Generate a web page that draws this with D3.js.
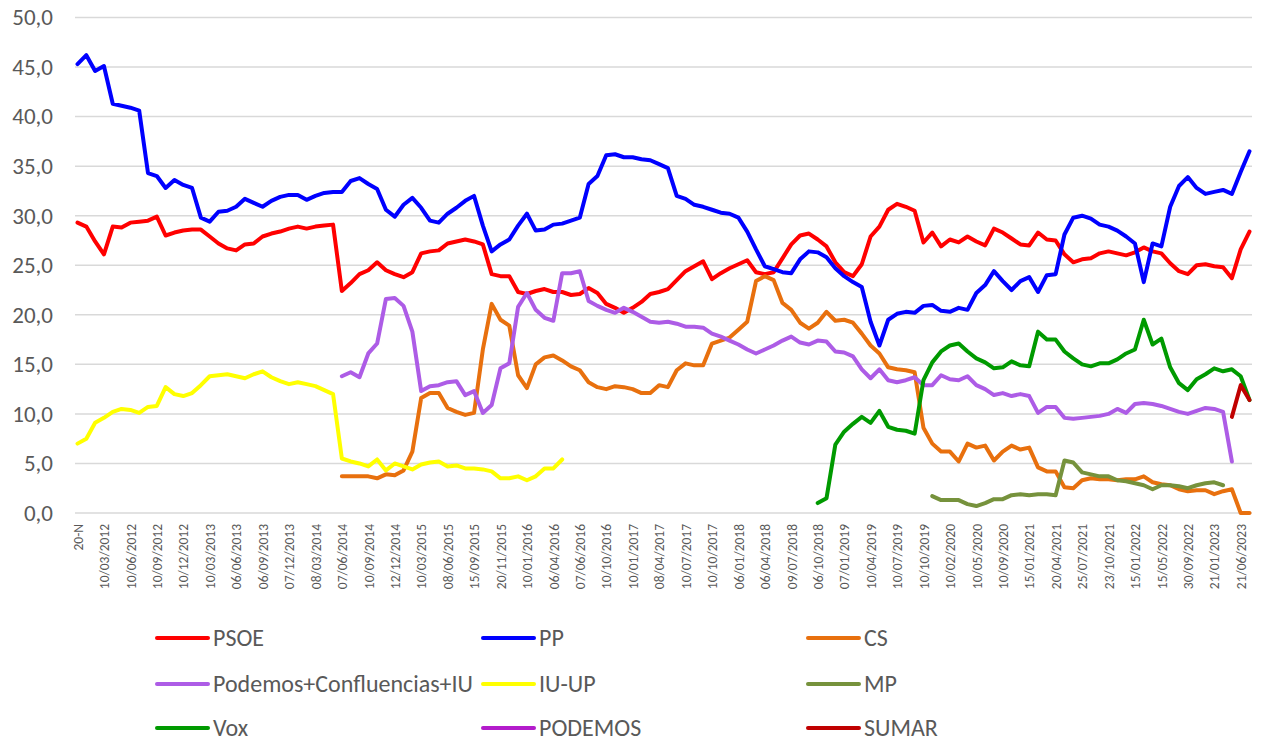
<!DOCTYPE html>
<html>
<head>
<meta charset="utf-8">
<script src="https://cdn.jsdelivr.net/npm/d3@7"></script>
<style>
  html, body { margin: 0; padding: 0; background: #ffffff; }
  svg { display: block; }
  text { font-family: Carlito, Calibri, "Open Sans", "Noto Sans", sans-serif; fill: #595959; }
</style>
</head>
<body>
<svg id="chart" width="1261" height="744"></svg>
<script>
// ---------- DATA ----------
const pointCount = 134;
const tickLabels = ["20-N","10/03/2012","10/06/2012","10/09/2012","10/12/2012","10/03/2013","06/06/2013","06/09/2013","07/12/2013","08/03/2014","07/06/2014","10/09/2014","12/12/2014","10/03/2015","08/06/2015","15/09/2015","20/11/2015","10/01/2016","06/04/2016","07/06/2016","10/10/2016","10/01/2017","08/04/2017","10/07/2017","10/10/2017","06/01/2018","06/04/2018","09/07/2018","06/10/2018","07/01/2019","10/04/2019","10/07/2019","10/10/2019","10/02/2020","10/05/2020","10/09/2020","15/01/2021","20/04/2021","25/07/2021","23/10/2021","15/01/2022","15/05/2022","30/09/2022","21/01/2023","21/06/2023"];
const yTicks = [0,5,10,15,20,25,30,35,40,45,50];

const psoeStart = 0;
const psoeValues = [29.3,28.9,27.4,26.1,28.9,28.8,29.3,29.4,29.5,29.9,28.0,28.3,28.5,28.6,28.6,27.9,27.2,26.7,26.5,27.1,27.2,27.9,28.2,28.4,28.7,28.9,28.7,28.9,29.0,29.1,22.4,23.2,24.1,24.5,25.3,24.5,24.1,23.8,24.3,26.2,26.4,26.5,27.2,27.4,27.6,27.4,27.1,24.1,23.9,23.9,22.3,22.1,22.4,22.6,22.3,22.3,22.0,22.1,22.7,22.2,21.1,20.7,20.2,20.7,21.3,22.1,22.3,22.6,23.5,24.4,24.9,25.4,23.6,24.2,24.7,25.1,25.5,24.3,24.1,24.3,25.7,27.1,28.0,28.2,27.6,26.9,25.3,24.3,23.9,25.1,27.9,28.9,30.6,31.2,30.9,30.5,27.3,28.3,26.9,27.6,27.3,27.9,27.4,27.0,28.7,28.3,27.7,27.1,27.0,28.3,27.6,27.5,26.1,25.3,25.6,25.7,26.2,26.4,26.2,26.0,26.3,26.8,26.4,26.2,25.2,24.4,24.1,25.0,25.1,24.9,24.8,23.7,26.6,28.4];

const ppStart = 0;
const ppValues = [45.3,46.2,44.6,45.1,41.3,41.1,40.9,40.6,34.3,34.0,32.8,33.6,33.1,32.8,29.8,29.4,30.4,30.5,30.9,31.7,31.3,30.9,31.5,31.9,32.1,32.1,31.6,32.0,32.3,32.4,32.4,33.5,33.8,33.2,32.7,30.6,29.9,31.1,31.8,30.8,29.5,29.3,30.2,30.8,31.5,32.0,29.0,26.4,27.1,27.6,29.0,30.2,28.5,28.6,29.1,29.2,29.5,29.8,33.2,34.0,36.1,36.2,35.9,35.9,35.7,35.6,35.2,34.8,32.0,31.7,31.1,30.9,30.6,30.3,30.2,29.8,28.4,26.6,24.9,24.6,24.3,24.2,25.6,26.4,26.3,25.8,24.7,23.9,23.3,22.8,19.3,16.9,19.5,20.1,20.3,20.2,20.9,21.0,20.4,20.3,20.7,20.5,22.2,23.0,24.4,23.4,22.5,23.4,23.8,22.3,24.0,24.1,28.1,29.8,30.0,29.7,29.1,28.9,28.5,27.9,27.2,23.3,27.2,26.9,30.9,33.0,33.9,32.8,32.2,32.4,32.6,32.2,34.4,36.5];

const csStart = 30;
const csValues = [3.7,3.7,3.7,3.7,3.5,3.9,3.8,4.3,6.2,11.6,12.1,12.1,10.6,10.2,9.9,10.1,16.5,21.1,19.5,18.9,13.9,12.6,15.0,15.7,15.9,15.4,14.8,14.4,13.2,12.7,12.5,12.8,12.7,12.5,12.1,12.1,12.9,12.7,14.4,15.1,14.9,14.9,17.1,17.4,17.7,18.5,19.3,23.4,23.9,23.5,21.2,20.5,19.2,18.6,19.2,20.3,19.4,19.5,19.2,18.1,16.9,16.1,14.7,14.5,14.4,14.2,8.6,7.0,6.2,6.2,5.2,7.0,6.6,6.8,5.3,6.2,6.8,6.4,6.6,4.6,4.2,4.2,2.6,2.5,3.3,3.5,3.4,3.4,3.3,3.4,3.4,3.7,3.1,2.9,2.8,2.4,2.2,2.3,2.3,1.9,2.2,2.4,0.0,0.0];

const podemosIuStart = 30;
const podemosIuValues = [13.8,14.2,13.7,16.1,17.1,21.6,21.7,20.9,18.3,12.3,12.8,12.9,13.2,13.3,11.9,12.3,10.1,10.9,14.6,15.1,20.8,22.2,20.5,19.7,19.4,24.2,24.2,24.4,21.4,20.9,20.5,20.2,20.7,20.3,19.8,19.3,19.2,19.3,19.1,18.8,18.8,18.7,18.1,17.8,17.4,17.0,16.5,16.1,16.5,16.9,17.4,17.8,17.2,17.0,17.4,17.3,16.3,16.2,15.8,14.5,13.6,14.5,13.4,13.2,13.4,13.7,12.9,12.9,13.9,13.5,13.4,13.8,12.9,12.5,11.9,12.1,11.8,12.0,11.8,10.1,10.7,10.7,9.6,9.5,9.6,9.7,9.8,10.0,10.5,10.1,11.0,11.1,11.0,10.8,10.5,10.2,10.0,10.3,10.6,10.5,10.2,5.2];

const iuUpStart = 0;
const iuUpValues = [7.0,7.5,9.1,9.6,10.2,10.5,10.4,10.1,10.7,10.8,12.7,12.0,11.8,12.1,12.9,13.8,13.9,14.0,13.8,13.6,14.0,14.3,13.7,13.3,13.0,13.2,13.0,12.8,12.4,12.0,5.5,5.2,5.0,4.7,5.4,4.3,5.0,4.7,4.4,4.9,5.1,5.2,4.7,4.8,4.5,4.5,4.4,4.2,3.5,3.5,3.7,3.3,3.7,4.5,4.5,5.4];

const mpStart = 97;
const mpValues = [1.7,1.3,1.3,1.3,0.9,0.7,1.0,1.4,1.4,1.8,1.9,1.8,1.9,1.9,1.8,5.3,5.1,4.1,3.9,3.7,3.7,3.3,3.2,3.0,2.8,2.4,2.8,2.8,2.7,2.5,2.8,3.0,3.1,2.8];

const voxStart = 84;
const voxValues = [1.0,1.5,6.9,8.2,9.0,9.7,9.1,10.3,8.7,8.4,8.3,8.0,13.4,15.2,16.3,16.9,17.1,16.3,15.6,15.2,14.6,14.7,15.3,14.9,14.8,18.3,17.5,17.5,16.3,15.6,15.0,14.8,15.1,15.1,15.5,16.1,16.5,19.5,17.0,17.6,14.7,13.1,12.4,13.5,14.0,14.6,14.3,14.5,13.8,11.4];

const podemosStart = 0;
const podemosValues = [];

const sumarStart = 131;
const sumarValues = [9.7,12.9,11.4];

const seriesNames = ["PSOE","PP","CS","Podemos+Confluencias+IU","IU-UP","MP","Vox","PODEMOS","SUMAR"];
const seriesColors = ["#ff0000","#0000ff","#e8700e","#ad5ce6","#ffff00","#76923c","#009a00","#b31ccb","#c00000"];
const seriesStarts = [psoeStart,ppStart,csStart,podemosIuStart,iuUpStart,mpStart,voxStart,podemosStart,sumarStart];
const seriesValues = [psoeValues,ppValues,csValues,podemosIuValues,iuUpValues,mpValues,voxValues,podemosValues,sumarValues];

// ---------- CHART ----------
const FONT = 'Carlito, Calibri, "Open Sans", "Noto Sans", sans-serif';
const svg = d3.select("#chart");
svg.append("rect").attr("width",1261).attr("height",744).attr("fill","#ffffff");

const plotLeft = 75, plotRight = 1252;
const x = d3.scalePoint().domain(d3.range(pointCount)).range([77.5, 1249.5]);
const y = d3.scaleLinear().domain([0, 50]).range([513, 17.5]);

const esLocale = d3.formatLocale({decimal: ",", thousands: ".", grouping: [3], currency: ["", " €"]});
const fmt = esLocale.format(".1f");

// gridlines
svg.append("g").selectAll("line").data(yTicks).join("line")
  .attr("x1", plotLeft).attr("x2", plotRight)
  .attr("y1", d => y(d)).attr("y2", d => y(d))
  .attr("stroke", "#d9d9d9").attr("stroke-width", 1.5);

// y axis labels
const yAxis = svg.append("g").attr("transform", `translate(${plotLeft},0)`)
  .call(d3.axisLeft(y).tickValues(yTicks).tickFormat(fmt).tickSize(0).tickPadding(22));
yAxis.select(".domain").remove();
yAxis.selectAll("text").attr("font-size", 23).attr("fill", "#595959")
  .style("font-family", FONT);

// x axis labels
const xAxis = svg.append("g").attr("transform", "translate(0,513)")
  .call(d3.axisBottom(x).tickValues(d3.range(0, pointCount, 3)).tickFormat(i => tickLabels[i / 3]).tickSize(0));
xAxis.select(".domain").remove();
xAxis.selectAll("text")
  .attr("y", 0).attr("x", 0).attr("dy", "0.35em")
  .attr("transform", "translate(0,11) rotate(-90)")
  .attr("text-anchor", "end")
  .attr("font-size", 13.5).attr("fill", "#595959")
  .style("font-family", FONT);

// lines
const line = d3.line()
  .defined(d => d.v !== null && d.v !== undefined)
  .x(d => x(d.i)).y(d => y(d.v));

seriesNames.forEach((name, k) => {
  const pts = seriesValues[k].map((v, j) => ({i: seriesStarts[k] + j, v}));
  if (!pts.length) return;
  svg.append("path").datum(pts)
    .attr("fill", "none")
    .attr("stroke", seriesColors[k])
    .attr("stroke-width", 4)
    .attr("stroke-linejoin", "round")
    .attr("stroke-linecap", "round")
    .attr("d", line);
});

// legend
const legendCols = [157, 483, 808];
const legendRows = [638, 684, 728];
const legend = svg.append("g");
seriesNames.forEach((name, k) => {
  const cx = legendCols[k % 3], cy = legendRows[Math.floor(k / 3)];
  const g = legend.append("g").attr("transform", `translate(${cx},${cy})`);
  g.append("line").attr("x1", 0).attr("x2", 51).attr("y1", 0).attr("y2", 0)
    .attr("stroke", seriesColors[k]).attr("stroke-width", 4).attr("stroke-linecap", "round");
  g.append("text").attr("x", 56).attr("y", 0).attr("dy", "0.35em")
    .attr("font-size", 24).style("font-family", FONT).text(name);
});
</script>
</body>
</html>
